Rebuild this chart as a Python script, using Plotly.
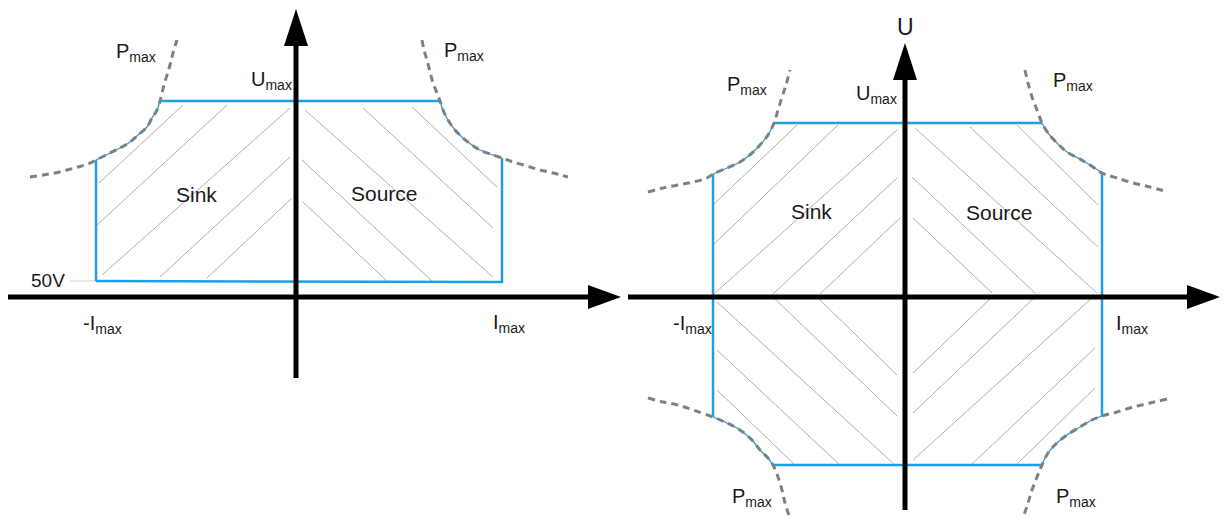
import numpy as np
import plotly.graph_objects as go

# Operating-area sketch of a bidirectional supply.
# Units are arbitrary I / U units, origin at the axis crossing.

# ---------- left panel: sink / source above 50V ----------
L_I_NEG = -200          # -Imax
L_I_POS = 206           # +Imax
L_U_MAX = 196           # Umax
L_U_MIN = [16, 15]      # 50V level at -Imax / +Imax
L_PMAX_A_I = [-266, -253, -241, -229, -218, -208, -200, -186, -176, -166, -158, -149, -144, -139, -136,
              -134, -132, -129, -126, -123, -119]
L_PMAX_A_U = [120, 122, 124, 127, 130, 133, 137, 144, 149, 155, 162, 170, 179, 187, 196,
              204, 212, 222, 232, 244, 257]
L_PMAX_B_I = [126, 128, 131, 134, 137, 141, 144, 147, 152, 159, 167, 176, 184, 194, 206,
              217, 231, 244, 257, 272]
L_PMAX_B_U = [257, 247, 237, 225, 214, 204, 196, 187, 177, 167, 159, 152, 147, 143, 139,
              135, 131, 127, 124, 120]
L_HATCH_I0 = [-197, -199, -194, -136, -89, 9, 67, 116, 6, 7]
L_HATCH_U0 = [114, 72, 22, 20, 19, 187, 189, 190, 137, 95]
L_HATCH_I1 = [-113, -69, -6, -6, -4, 197, 197, 201, 137, 92]
L_HATCH_U1 = [192, 192, 189, 140, 99, 20, 69, 110, 15, 15]
L_AXIS_I = [-288, 325]  # start, arrow tip
L_AXIS_U = [-81, 288]
L_GUIDE_I = [-226, -200]   # faint leader to the 50V label

# ---------- right panel: four quadrants ----------
R_I_NEG = -192
R_I_POS = 197
R_U_POS = 174
R_U_NEG = -168
R_PMAX_UL_I = [-257, -242, -227, -212, -198, -192, -178, -165, -153, -145, -137, -131, -127, -123, -119, -115]
R_PMAX_UL_U = [105, 109, 112, 115, 119, 123, 129, 135, 144, 152, 162, 174, 187, 200, 212, 227]
R_PMAX_UR_I = [120, 123, 127, 132, 137, 143, 152, 162, 173, 185, 197, 212, 228, 245, 263]
R_PMAX_UR_U = [227, 214, 200, 187, 174, 164, 154, 145, 139, 132, 124, 119, 114, 110, 105]
R_PMAX_BL_I = [-257, -242, -227, -212, -192, -178, -165, -153, -145, -137, -132, -127, -123, -120, -115]
R_PMAX_BL_U = [-101, -105, -108, -113, -120, -126, -133, -143, -153, -161, -168, -180, -193, -206, -221]
R_PMAX_BR_I = [262, 245, 228, 212, 197, 187, 175, 162, 152, 143, 137, 132, 127, 123, 118]
R_PMAX_BR_U = [-102, -106, -110, -115, -119, -123, -130, -138, -146, -156, -168, -180, -193, -206, -221]
R_HATCH_I0 = [-192, -192, -190, -132, -85, 10, 65, 112, 7, 8,
              -188, -188, -188, -132, -88, 8, 8, 8, 67, 112]
R_HATCH_U0 = [92, 52, 4, 3, 3, 169, 170, 172, 120, 79,
              -5, -53, -93, 0, 0, -163, -116, -76, -167, -167]
R_HATCH_I1 = [-108, -67, -8, -8, -5, 192, 193, 193, 130, 87,
              -10, -65, -110, -8, -8, 188, 130, 87, 190, 190]
R_HATCH_U1 = [172, 172, 167, 119, 79, 4, 50, 92, 4, 4,
              -168, -168, -168, -119, -78, 0, 0, 0, -51, -91]
R_AXIS_I = [-277, 315]
R_AXIS_U = [-213, 254]

# labels: text, I, U, anchor
L_LABELS = [("P<sub>max</sub>", -182, 245, "left"), ("P<sub>max</sub>", 146, 246, "left"),
            ("U<sub>max</sub>", -47, 217, "left"), ("Sink", -100, 103, "center"),
            ("Source", 88, 104, "center"), ("50V", -248, 17, "center"),
            ("-I<sub>max</sub>", -215, -27, "left"), ("I<sub>max</sub>", 195, -26, "left")]
R_LABELS = [("U", 0, 270, "center"), ("P<sub>max</sub>", -180, 212, "left"),
            ("U<sub>max</sub>", -51, 203, "left"), ("P<sub>max</sub>", 146, 216, "left"),
            ("Sink", -94, 86, "center"), ("Source", 94, 85, "center"),
            ("-I<sub>max</sub>", -234, -27, "left"), ("I<sub>max</sub>", 209, -27, "left"),
            ("P<sub>max</sub>", -175, -200, "left"), ("P<sub>max</sub>", 149, -200, "left")]

BLUE = "#1e9fe3"
DASH_GRAY = "#808080"
HATCH_GRAY = "#9a9a9a"
FONT = "Liberation Sans, Arial, sans-serif"

fig = go.Figure()


def segs(x0, y0, x1, y1):
    xs, ys = [], []
    for a, b, c, d in zip(x0, y0, x1, y1):
        xs += [a, c, None]
        ys += [b, d, None]
    return xs, ys


def line(xs, ys, ax, color, width, dash=None, shape="linear"):
    fig.add_trace(go.Scatter(x=xs, y=ys, mode="lines", xaxis=ax[0], yaxis=ax[1],
                             line=dict(color=color, width=width, dash=dash, shape=shape),
                             hoverinfo="skip", showlegend=False))


def corner_u(pi, pu, i_val):
    k = int(np.argmin(np.abs(np.array(pi) - i_val)))
    return pu[k]


def curve_part(pi, pu, i_lim, u_lim):
    pi, pu = np.array(pi), np.array(pu)
    m = (np.abs(pi) <= abs(i_lim) + 1) & (np.abs(pu) <= abs(u_lim) + 1)
    return list(pi[m]), list(pu[m])


def axes_arrows(ai, au, ax):
    # axis shafts
    line([ai[0], ai[1] - 30, None, 0, 0], [0, 0, None, au[0], au[1] - 30], ax, "black", 5)
    # arrow heads
    for xs, ys in [([ai[1] - 33, ai[1], ai[1] - 33, ai[1] - 33], [12, 0, -12, 12]),
                   ([-12, 0, 12, -12], [au[1] - 37, au[1], au[1] - 37, au[1] - 37])]:
        fig.add_trace(go.Scatter(x=xs, y=ys, mode="lines", fill="toself", fillcolor="black",
                                 line=dict(color="black", width=0), xaxis=ax[0], yaxis=ax[1],
                                 hoverinfo="skip", showlegend=False))


DASH = "7px,5px"

# ----- left panel -----
LA = ("x", "y")
hx, hy = segs(L_HATCH_I0, L_HATCH_U0, L_HATCH_I1, L_HATCH_U1)
line(hx, hy, LA, HATCH_GRAY, 0.8)
line(L_GUIDE_I, [L_U_MIN[0]] * 2, LA, "#d0d0d0", 1)
ua = corner_u(L_PMAX_A_I, L_PMAX_A_U, L_I_NEG)
ub = corner_u(L_PMAX_B_I, L_PMAX_B_U, L_I_POS)
ia = corner_u(L_PMAX_A_U, L_PMAX_A_I, L_U_MAX)
ib = corner_u(L_PMAX_B_U, L_PMAX_B_I, L_U_MAX)
line([L_I_NEG, L_I_NEG, None, ia, ib, None, L_I_POS, L_I_POS, L_I_NEG],
     [ua, L_U_MIN[0], None, L_U_MAX, L_U_MAX, None, ub, L_U_MIN[1], L_U_MIN[0]], LA, BLUE, 2.5)
for pi, pu, il in [(L_PMAX_A_I, L_PMAX_A_U, L_I_NEG), (L_PMAX_B_I, L_PMAX_B_U, L_I_POS)]:
    ci, cu = curve_part(pi, pu, il, L_U_MAX)
    line(ci, cu, LA, BLUE, 1.3, shape="spline")
    line(pi, pu, LA, DASH_GRAY, 3, dash=DASH, shape="spline")
axes_arrows(L_AXIS_I, L_AXIS_U, LA)

# ----- right panel -----
RA = ("x2", "y2")
hx, hy = segs(R_HATCH_I0, R_HATCH_U0, R_HATCH_I1, R_HATCH_U1)
line(hx, hy, RA, HATCH_GRAY, 0.8)
curves = [(R_PMAX_UL_I, R_PMAX_UL_U, R_I_NEG, R_U_POS), (R_PMAX_UR_I, R_PMAX_UR_U, R_I_POS, R_U_POS),
          (R_PMAX_BL_I, R_PMAX_BL_U, R_I_NEG, R_U_NEG), (R_PMAX_BR_I, R_PMAX_BR_U, R_I_POS, R_U_NEG)]
ul, ur, bl, br = [(corner_u(c[1], c[0], c[3]), corner_u(c[0], c[1], c[2])) for c in curves]
bx = [ul[0], ur[0], None, R_I_POS, R_I_POS, None, br[0], bl[0], None, R_I_NEG, R_I_NEG]
by = [R_U_POS, R_U_POS, None, ur[1], br[1], None, R_U_NEG, R_U_NEG, None, bl[1], ul[1]]
line(bx, by, RA, BLUE, 2.5)
for pi, pu, il, ulim in curves:
    ci, cu = curve_part(pi, pu, il, ulim)
    line(ci, cu, RA, BLUE, 1.3, shape="spline")
    line(pi, pu, RA, DASH_GRAY, 3, dash=DASH, shape="spline")
axes_arrows(R_AXIS_I, R_AXIS_U, RA)

# ----- labels -----
anns = []
for labels, xr, yr in [(L_LABELS, "x", "y"), (R_LABELS, "x2", "y2")]:
    for text, i, u, anchor in labels:
        size = 23 if text == "U" else (19 if text == "50V" else 20)
        if text in ("Sink", "Source"):
            size = 21
        anns.append(dict(text=text, x=i, y=u, xref=xr, yref=yr, xanchor=anchor, yanchor="middle",
                         showarrow=False, font=dict(family=FONT, size=size, color="#1a1a1a")))

split = 625 / 1224
fig.update_layout(
    width=1224, height=519,
    margin=dict(l=0, r=0, t=0, b=0),
    paper_bgcolor="white", plot_bgcolor="white",
    showlegend=False,
    annotations=anns,
    xaxis=dict(domain=[0, split], range=[-296, 329], visible=False, fixedrange=True),
    yaxis=dict(domain=[0, 1], range=[-222, 297], visible=False, fixedrange=True),
    xaxis2=dict(domain=[split, 1], range=[-280, 319], visible=False, anchor="y2", fixedrange=True),
    yaxis2=dict(domain=[0, 1], range=[-222, 297], visible=False, anchor="x2", fixedrange=True),
)

fig.write_html("out.html", config={"displayModeBar": False},
               post_script="document.body.style.margin='0';document.body.style.overflow='hidden';")
